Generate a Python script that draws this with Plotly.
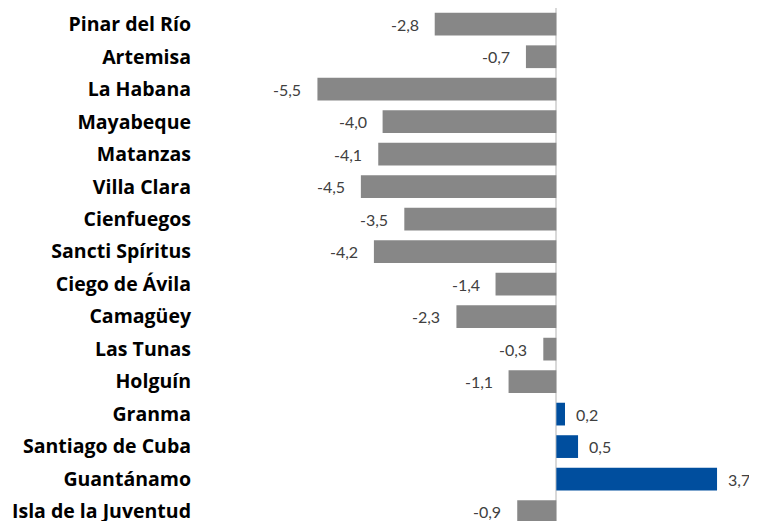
import plotly.graph_objects as go

provinces = ["Pinar del Río", "Artemisa", "La Habana", "Mayabeque", "Matanzas",
             "Villa Clara", "Cienfuegos", "Sancti Spíritus", "Ciego de Ávila",
             "Camagüey", "Las Tunas", "Holguín", "Granma", "Santiago de Cuba",
             "Guantánamo", "Isla de la Juventud"]
values = [-2.8, -0.7, -5.5, -4.0, -4.1, -4.5, -3.5, -4.2, -1.4, -2.3, -0.3,
          -1.1, 0.2, 0.5, 3.7, -0.9]

NEG = "#878787"
POS = "#004E9E"
colors = [POS if v > 0 else NEG for v in values]
labels = [f"{v:.1f}".replace(".", ",") for v in values]

fig = go.Figure(go.Bar(
    x=values, y=provinces, orientation="h",
    marker=dict(color=colors, line=dict(width=0)),
    width=0.7, hoverinfo="skip",
))

for p, v, t in zip(provinces, values, labels):
    fig.add_annotation(
        x=v, y=p, text=t, showarrow=False,
        xanchor="left" if v > 0 else "right",
        xshift=9 if v > 0 else -14,
        font=dict(family="Lato", size=16, color="#404040"),
    )

fig.update_layout(
    width=749, height=513,
    margin=dict(l=190, r=0, t=0, b=0),
    plot_bgcolor="white", paper_bgcolor="white",
    showlegend=False,
    xaxis=dict(range=[-8.25, 4.62], showgrid=False, zeroline=True,
               zerolinecolor="#D9D9D9", zerolinewidth=2,
               showticklabels=False, ticks="", automargin=False),
    yaxis=dict(range=[15.29, -0.5], autorange=False, showgrid=False,
               ticks="", ticklabelstandoff=6, automargin=False,
               tickfont=dict(family="Open Sans", size=19.5, color="#000000",
                             weight="bold")),
)

fig.write_html("out.html")
